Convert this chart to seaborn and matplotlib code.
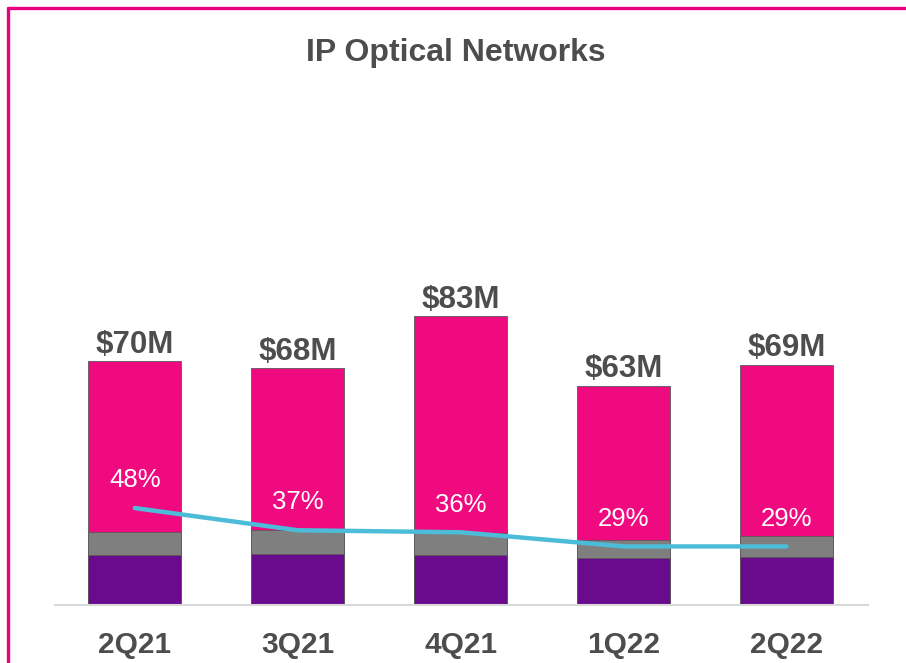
import matplotlib.pyplot as plt
import pandas as pd
import seaborn as sns
import numpy as np
from matplotlib.lines import Line2D

# Data
quarters = ['2Q21', '3Q21', '4Q21', '1Q22', '2Q22']
revenue = [70, 68, 83, 63, 69]           # total bar, $M
purple_part = [14.4, 14.7, 14.4, 13.5, 13.8]
gray_part = [6.6, 6.9, 6.3, 5.2, 6.0]
margin = [48, 37, 36, 29, 29]            # percent, line

pink_c = '#F00A80'
gray_c = '#7F7F7F'
purple_c = '#6A0A8C'
line_c = '#4CBCD8'
text_c = '#4D4D4D'

df = pd.DataFrame({'pos': np.arange(len(quarters)), 'quarter': quarters,
                   'total': revenue, 'purple': purple_part,
                   'lower': np.array(purple_part) + np.array(gray_part),
                   'margin': margin})

sns.set_style('white')
plt.rcParams['font.family'] = ['Liberation Sans', 'DejaVu Sans']

fig = plt.figure(figsize=(9.06, 6.63), dpi=100)
W, H = 906, 663
ax = fig.add_axes([55 / W, (H - 605) / H, 813 / W, 505 / H])

# stacked look: draw cumulative heights from largest to smallest
for col, c in [('total', pink_c), ('lower', gray_c), ('purple', purple_c)]:
    sns.barplot(data=df, x='pos', y=col, native_scale=True, color=c,
                saturation=1, width=0.57, edgecolor='#5a5a5a', linewidth=0.6, ax=ax)

ax.set_xlim(-0.49, 4.5)
ax.set_ylim(0, 505 / 3.48)
ax.set_xticks(df['pos'])
ax.set_xticklabels(quarters, fontsize=21.5, fontweight='bold', color=text_c)
ax.tick_params(axis='x', length=0, pad=19)
ax.set_yticks([])
ax.set_xlabel('')
ax.set_ylabel('')
for s in ['top', 'left', 'right']:
    ax.spines[s].set_visible(False)
ax.spines['bottom'].set_color('#D9D9D9')
ax.spines['bottom'].set_linewidth(1.5)

for p, v in zip(df['pos'], revenue):
    ax.annotate(f'${v}M', (p, v), xytext=(0, 1), textcoords='offset points',
                ha='center', va='bottom', fontsize=22.5, fontweight='bold', color=text_c)

# margin line on secondary axis
ax2 = ax.twinx()
sns.lineplot(data=df, x='pos', y='margin', color=line_c, linewidth=3.2,
             solid_capstyle='round', ax=ax2)
ax2.set_ylim(0, 505 / 2.02)
ax2.set_xlim(-0.49, 4.5)
ax2.set_yticks([])
ax2.set_ylabel('')
ax2.set_xlabel('')
for s in ax2.spines.values():
    s.set_visible(False)
for p, m in zip(df['pos'], margin):
    ax2.annotate(f'{m}%', (p, m), xytext=(0, 20), textcoords='offset points',
                 ha='center', va='center', fontsize=18.5, color='white')

fig.text(456 / W, 1 - 53 / H, 'IP Optical Networks', ha='center', va='center',
         fontsize=23, fontweight='bold', color=text_c)

# magenta frame on top and left
fig.add_artist(Line2D([8 / W, 8 / W], [0, 1 - 8 / H], color='#E8007D', lw=2.4))
fig.add_artist(Line2D([8 / W, 1], [1 - 8 / H, 1 - 8 / H], color='#E8007D', lw=2.4))

fig.savefig('out.png', dpi=100)
